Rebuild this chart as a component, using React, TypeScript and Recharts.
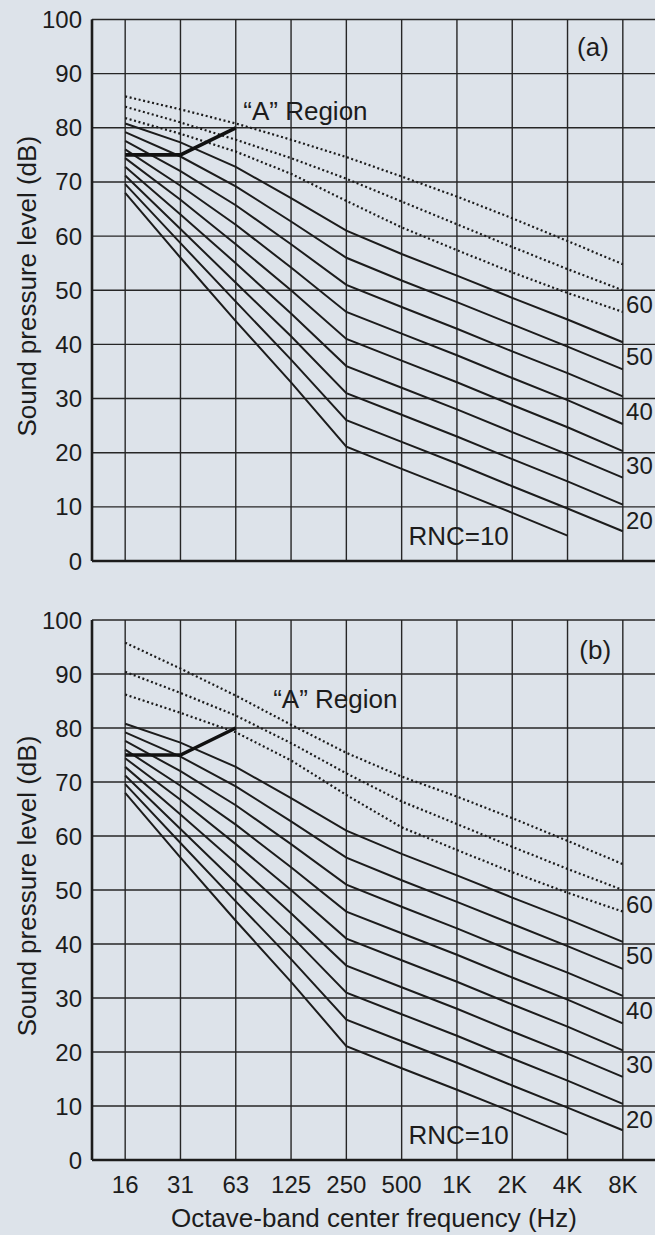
import { LineChart, Line, XAxis, YAxis, CartesianGrid, ReferenceDot } from "recharts";

const bands = ["16", "31", "63", "125", "250", "500", "1K", "2K", "4K", "8K"];
const dbTicks = [0, 10, 20, 30, 40, 50, 60, 70, 80, 90, 100];

// solid RNC curves (same in both panels)
const rnc10 = [68.0, 56.0, 44.3, 33.0, 21.1, 17.0, 13.0, 8.9, 4.7, null];
const rnc15 = [69.6, 58.7, 47.9, 37.2, 26.0, 22.0, 18.0, 13.8, 9.7, 5.5];
const rnc20 = [71.2, 61.3, 51.4, 41.5, 31.0, 27.0, 23.0, 18.8, 14.7, 10.4];
const rnc25 = [72.8, 64.0, 55.0, 45.7, 36.0, 32.0, 28.0, 23.8, 19.7, 15.4];
const rnc30 = [74.4, 66.7, 58.5, 50.0, 41.0, 37.0, 33.0, 28.8, 24.7, 20.3];
const rnc35 = [76.0, 69.3, 62.1, 54.2, 46.0, 42.0, 38.0, 33.8, 29.7, 25.3];
const rnc40 = [77.6, 72.0, 65.7, 58.5, 51.0, 46.9, 42.9, 38.7, 34.7, 30.4];
const rnc45 = [79.2, 74.7, 69.2, 62.7, 56.0, 51.8, 47.8, 43.7, 39.6, 35.4];
const rnc50 = [80.8, 77.3, 72.8, 67.0, 61.0, 56.7, 52.7, 48.6, 44.6, 40.4];

// dotted curves, panel (a)
const rnc55a = [81.8, 78.9, 75.6, 71.5, 66.5, 61.6, 57.4, 53.3, 49.5, 46.0];
const rnc60a = [83.9, 81.0, 77.8, 74.4, 70.6, 66.4, 62.2, 58.0, 53.9, 50.0];
const rnc65a = [85.8, 83.4, 80.8, 77.8, 74.6, 71.0, 67.3, 63.3, 59.1, 54.8];

// dotted curves, panel (b)
const rnc55b = [86.2, 82.8, 79.2, 74.0, 67.6, 61.6, 57.4, 53.3, 49.5, 46.0];
const rnc60b = [90.4, 86.5, 82.3, 77.2, 71.6, 66.4, 62.2, 58.0, 53.9, 50.0];
const rnc65b = [95.8, 91.0, 86.0, 80.6, 75.4, 71.0, 67.3, 63.3, 59.1, 54.8];

// "A" region boundary
const aRegion = [75, 75, 80, null, null, null, null, null, null, null];

// curve labels at the right edge
const endLabels = ["60", "50", "40", "30", "20"];
const endLabelDb = [47.3, 37.8, 27.7, 17.6, 7.5];

const solidSeries = [rnc10, rnc15, rnc20, rnc25, rnc30, rnc35, rnc40, rnc45, rnc50];

const ink = "#1c1c1c";
const font = "'Liberation Sans', Arial, Helvetica, sans-serif";

function buildRows(dotted: (number | null)[][]) {
  return bands.map((_, i) => {
    const row: Record<string, number | null> = { x: i, region: aRegion[i] };
    solidSeries.forEach((s, k) => {
      row[`s${k}`] = s[i];
    });
    dotted.forEach((s, k) => {
      row[`d${k}`] = s[i];
    });
    return row;
  });
}

type PanelProps = {
  top: number;
  height: number;
  plotTop: number;
  axisHeight: number;
  dotted: (number | null)[][];
  tag: string;
  tagAt: [number, number];
  regionAt: [number, number];
  showBands: boolean;
};

function RncPanel({ top, height, plotTop, axisHeight, dotted, tag, tagAt, regionAt, showBands }: PanelProps) {
  const rows = buildRows(dotted);
  const textProps = { fill: ink, fontSize: 26 };

  return (
    <div style={{ position: "absolute", left: 0, top, width: 700, height }}>
      <LineChart
        width={700}
        height={height}
        data={rows}
        margin={{ top: plotTop, right: 44, bottom: 0, left: 0 }}
      >
        <CartesianGrid stroke="#262626" strokeWidth={1.4} />
        <XAxis
          dataKey="x"
          type="number"
          domain={[-0.6, 9.6]}
          ticks={[0, 1, 2, 3, 4, 5, 6, 7, 8, 9]}
          interval={0}
          height={axisHeight}
          tickLine={false}
          tickSize={0}
          tickMargin={16}
          axisLine={{ stroke: ink, strokeWidth: 2.6 }}
          tick={{ fill: ink, fontSize: 24 }}
          tickFormatter={(v: number) => (showBands ? bands[v] : "")}
          label={
            showBands
              ? {
                  value: "Octave-band center frequency (Hz)",
                  position: "insideBottom",
                  offset: 8,
                  fill: ink,
                  fontSize: 26,
                }
              : undefined
          }
        />
        <YAxis
          type="number"
          domain={[0, 100]}
          ticks={dbTicks}
          interval={0}
          width={92}
          tickLine={false}
          tickSize={0}
          tickMargin={10}
          axisLine={{ stroke: ink, strokeWidth: 2.6 }}
          tick={{ fill: ink, fontSize: 24 }}
          label={{
            value: "Sound pressure level (dB)",
            angle: -90,
            position: "center",
            dx: -19,
            dy: -4,
            fill: ink,
            fontSize: 26,
          }}
        />
        {solidSeries.map((_, k) => (
          <Line
            key={`s${k}`}
            dataKey={`s${k}`}
            type="linear"
            stroke={ink}
            strokeWidth={2}
            dot={false}
            activeDot={false}
            isAnimationActive={false}
          />
        ))}
        {dotted.map((_, k) => (
          <Line
            key={`d${k}`}
            dataKey={`d${k}`}
            type="linear"
            stroke={ink}
            strokeWidth={2.2}
            strokeDasharray="2 2.6"
            dot={false}
            activeDot={false}
            isAnimationActive={false}
          />
        ))}
        <Line
          dataKey="region"
          type="linear"
          stroke="#111"
          strokeWidth={3.6}
          dot={false}
          activeDot={false}
          isAnimationActive={false}
        />
        <ReferenceDot
          x={tagAt[0]}
          y={tagAt[1]}
          r={0}
          fill="none"
          stroke="none"
          label={{ value: tag, position: "center", ...textProps }}
        />
        <ReferenceDot
          x={regionAt[0]}
          y={regionAt[1]}
          r={0}
          fill="none"
          stroke="none"
          label={{ value: "\u201cA\u201d Region", position: "center", ...textProps }}
        />
        <ReferenceDot
          x={6.03}
          y={4.6}
          r={0}
          fill="none"
          stroke="none"
          label={{ value: "RNC=10", position: "center", ...textProps }}
        />
        {endLabels.map((t, i) => (
          <ReferenceDot
            key={t}
            x={9.3}
            y={endLabelDb[i]}
            r={0}
            fill="none"
            stroke="none"
            label={{ value: t, position: "center", fill: ink, fontSize: 24 }}
          />
        ))}
      </LineChart>
    </div>
  );
}

export default function App() {
  return (
    <div
      style={{
        position: "absolute",
        left: 0,
        top: 0,
        width: 655,
        height: 1235,
        overflow: "hidden",
        background: "#dde3ea",
        fontFamily: font,
      }}
    >
      <RncPanel
        top={0}
        height={600}
        plotTop={19.5}
        axisHeight={39}
        dotted={[rnc55a, rnc60a, rnc65a]}
        tag="(a)"
        tagAt={[8.46, 94.9]}
        regionAt={[3.26, 83.2]}
        showBands={false}
      />
      <RncPanel
        top={600}
        height={635}
        plotTop={20}
        axisHeight={75}
        dotted={[rnc55b, rnc60b, rnc65b]}
        tag="(b)"
        tagAt={[8.5, 94.4]}
        regionAt={[3.8, 85.5]}
        showBands={true}
      />
    </div>
  );
}
